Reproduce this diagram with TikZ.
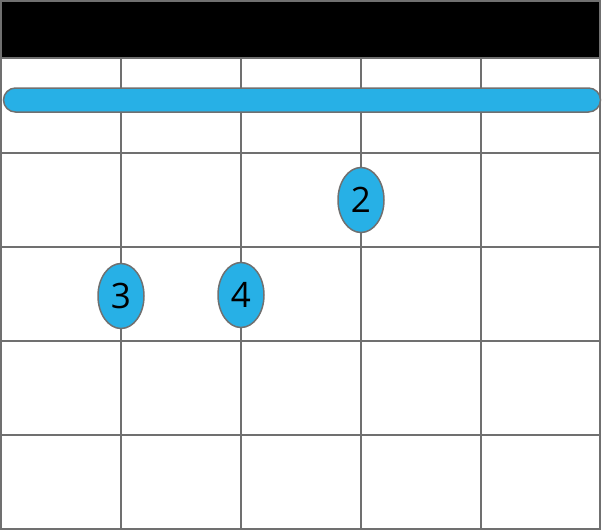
\documentclass[tikz,border=0pt]{standalone}
\usepackage{fontspec}
\setmainfont{Open Sans}
\usetikzlibrary{shapes.geometric}
\definecolor{gridgray}{HTML}{707070}
\definecolor{fingerblue}{HTML}{27B0E6}
\begin{document}
\begin{tikzpicture}[x=1pt,y=-1pt,
  gridline/.style={draw=gridgray,line width=2pt},
  finger/.style={ellipse,draw=gridgray,line width=1.5pt,fill=fingerblue,minimum width=46pt,minimum height=65pt,inner sep=0pt,font=\fontsize{35}{35}\selectfont}]
\useasboundingbox (0,0) rectangle (602,530);
\fill[black] (1,1) rectangle (600,58);
\foreach \x in {121,241,361,481}
  \draw[gridline] (\x,58) -- (\x,529);
\foreach \y in {153,247,341,435}
  \draw[gridline] (2,\y) -- (600,\y);
\draw[gridline] (1,1) rectangle (600,529);
\draw[gridline] (1,58) -- (600,58);
\node[draw=gridgray,line width=1.5pt,fill=fingerblue,rounded corners=12pt,minimum width=597pt,minimum height=24pt,inner sep=0pt] (barre) at (302,100) {};
\node[finger] (f2) at (361,200) {2};
\node[finger] (f3) at (121,296) {3};
\node[finger] (f4) at (241,295) {4};
\end{tikzpicture}
\end{document}
